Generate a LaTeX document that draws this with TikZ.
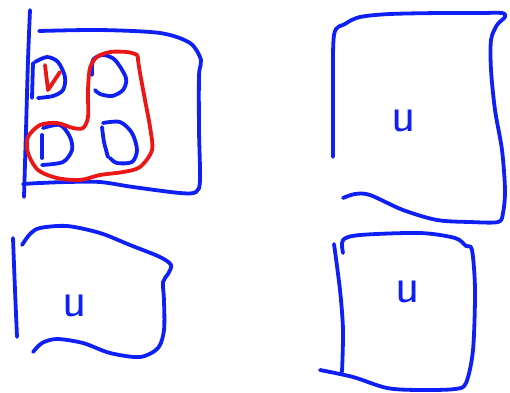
\documentclass[tikz,border=0pt]{standalone}
\usepackage{tikz}
\usetikzlibrary{calc, positioning}
\usepackage{xcolor}
\definecolor{inkblue}{RGB}{14,32,245}
\definecolor{inkred}{RGB}{235,22,22}

\begin{document}
\begin{tikzpicture}[x=1pt, y=-1pt,
  pen/.style={draw=inkblue, line width=3.8pt, line cap=round, line join=round},
  redpen/.style={draw=inkred, line width=3.8pt, line cap=round, line join=round},
  setname/.style={text=inkblue, font=\sffamily\fontsize{50}{50}\selectfont, inner sep=0pt}]
  \useasboundingbox (0,0) rectangle (510,392);

  % top left box
  \draw[pen] plot[smooth] coordinates {(30,10) (28,60) (26,130) (24,197)};
  \draw[pen] plot[smooth] coordinates {(39,31) (100,30) (160,33) (190,43) (201,60)
    (199,75) (199,130) (200,180) (196,192) (180,193) (133,187) (100,182) (67,182)
    (40,183) (23,184)};

  % small pieces inside
  \draw[pen] (33,63) -- (32,98);
  \draw[pen] plot[smooth] coordinates {(35,62) (47,57) (58,62) (65,77) (63,90) (53,96) (38,98)};
  \draw[pen] plot[smooth] coordinates {(92,75) (93,60) (103,55) (115,60) (126,78) (123,90)
    (112,96) (100,94) (95,90)};
  \draw[pen] (42,135) -- (42,158);
  \draw[pen] plot[smooth] coordinates {(43,128) (60,125) (70,137) (72,150) (63,162) (42,165)};
  \draw[pen] plot[smooth] coordinates {(102,127) (104,142) (108,157)};
  \draw[pen] plot[smooth] coordinates {(103,123) (120,122) (132,133) (137,150) (132,162)
    (117,163) (110,158)};

  % red marks
  \draw[redpen] (45,65) -- (48,90) -- (60,72);
  \draw[redpen] plot[smooth] coordinates {(138,60) (137,55) (127,52) (110,52) (97,57) (90,68)
    (88,90) (88,117) (83,128) (73,128) (57,123) (40,125) (28,137) (28,153) (38,170)
    (57,178) (80,180) (100,175) (123,172) (140,167) (152,150) (150,127) (145,100)
    (140,73) (138,60)};

  % top right box
  \draw[pen] plot[smooth] coordinates {(333,157) (333,100) (334,35) (345,24) (360,17)
    (390,14) (440,13) (480,13) (502,13) (505,17) (497,25) (491,40) (491,70) (495,110)
    (502,150) (505,190) (503,213) (498,222) (470,222) (437,220) (403,210) (370,195)
    (355,194) (343,198)};
  \node[setname] (utr) at (404,121) {u};

  % bottom left box
  \draw[pen] plot[smooth] coordinates {(13,238) (15,290) (17,337)};
  \draw[pen] plot[smooth] coordinates {(22,245) (30,234) (40,228) (67,226) (100,233)
    (130,245) (160,257) (171,265) (168,274) (163,282) (164,300) (164,330) (158,348)
    (140,357) (110,353) (83,343) (57,339) (42,343) (33,352)};
  \node[setname] (ubl) at (75,306) {u};

  % bottom right box
  \draw[pen] plot[smooth] coordinates {(334,244) (340,290) (343,330) (342,372)};
  \draw[pen] plot[smooth] coordinates {(343,253) (343,240) (360,235) (420,233) (455,238)
    (466,246) (472,250) (475,290) (473,350) (466,383) (455,389) (420,390) (387,388)
    (353,377) (320,370)};
  \node[setname] (ubr) at (408,292) {u};
\end{tikzpicture}
\end{document}
